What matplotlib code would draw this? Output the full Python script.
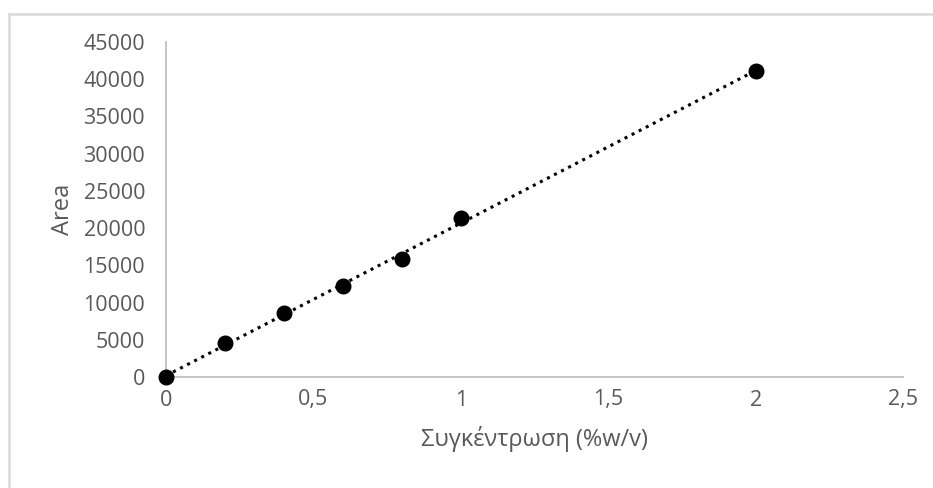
import matplotlib.pyplot as plt
from matplotlib.lines import Line2D
import numpy as np

# calibration data
conc = [0, 0.2, 0.4, 0.6, 0.8, 1, 2]
area = [0, 4550, 8600, 12250, 15850, 21350, 41100]

xticks = [0, 0.5, 1, 1.5, 2, 2.5]
xtick_labels = ['0', '0,5', '1', '1,5', '2', '2,5']
yticks = [0, 5000, 10000, 15000, 20000, 25000, 30000, 35000, 40000, 45000]
ytick_labels = [str(v) for v in yticks]

plt.rcParams['font.family'] = ['Open Sans', 'DejaVu Sans']
grey = '#595959'
axis_grey = '#bfbfbf'

fig = plt.figure(figsize=(9.33, 4.88), dpi=100)
ax = fig.add_axes([166/933, 1-377/488, (903-166)/933, (377-42)/488])

# linear trendline over the measured range
slope, icpt = np.polyfit(conc, area, 1)
xs = np.array([min(conc), max(conc)])
ax.plot(xs, slope*xs + icpt, color='black', lw=2.2, linestyle=(0, (1, 1.6)), zorder=2)
ax.plot(conc, area, 'o', color='black', markersize=10.5, zorder=3, clip_on=False)

ax.set_xlim(0, 2.5)
ax.set_ylim(0, 45000)
ax.set_xticks(xticks)
ax.set_xticklabels(xtick_labels)
ax.set_yticks(yticks)
ax.set_yticklabels(ytick_labels)
ax.tick_params(length=0, labelsize=15.5, labelcolor=grey)
ax.tick_params(axis='y', pad=15)
ax.tick_params(axis='x', pad=9)

for s in ['top', 'right']:
    ax.spines[s].set_visible(False)
for s in ['left', 'bottom']:
    ax.spines[s].set_color(axis_grey)
    ax.spines[s].set_linewidth(1.3)

ax.set_xlabel('Συγκέντρωση (%w/v)', fontsize=17, color=grey, labelpad=11)
ax.set_ylabel('Area', fontsize=17, color=grey, labelpad=6)

# chart area frame
fig.add_artist(Line2D([9/933, 9/933], [0, 1-14/488], color='#d9d9d9', lw=1.8,
                      transform=fig.transFigure))
fig.add_artist(Line2D([9/933, 1], [1-14/488, 1-14/488], color='#d9d9d9', lw=1.8,
                      transform=fig.transFigure))

fig.savefig('out.png', dpi=100)
